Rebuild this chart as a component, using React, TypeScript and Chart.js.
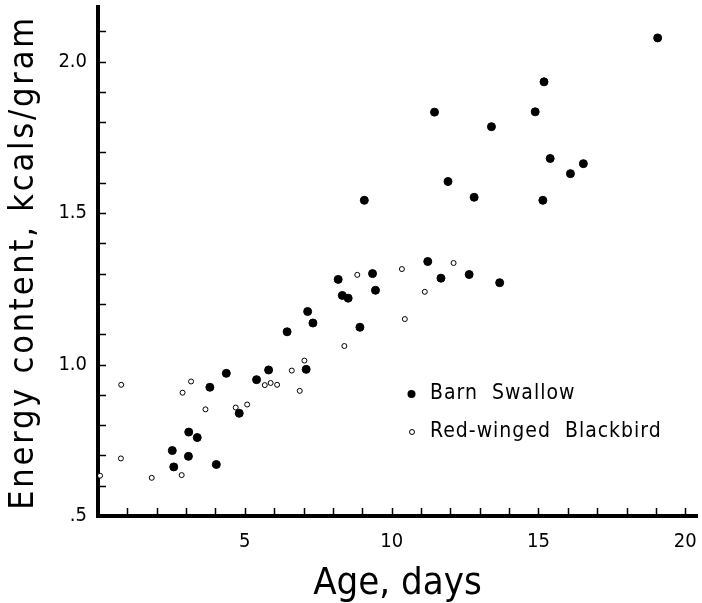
import React, { useEffect, useRef } from "react";
import { Chart, registerables } from "chart.js";

Chart.register(...registerables);

// ---- data ----
const barnSwallowAge = [19.06, 15.19, 11.46, 14.89, 13.4, 15.4, 16.53, 16.09, 11.92, 12.81, 15.15, 9.07, 8.18, 8.32, 8.52, 9.35, 9.45, 8.92, 11.23, 11.68, 12.64, 13.68, 7.14, 7.32, 6.44, 4.37, 3.81, 5.4, 5.81, 7.09, 4.81, 3.09, 3.38, 2.53, 3.08, 2.58, 4.03];
const barnSwallowEnergy = [2.078, 1.933, 1.833, 1.834, 1.785, 1.68, 1.663, 1.63, 1.604, 1.552, 1.542, 1.542, 1.281, 1.228, 1.219, 1.3, 1.245, 1.123, 1.34, 1.285, 1.297, 1.27, 1.175, 1.137, 1.108, 0.971, 0.925, 0.95, 0.982, 0.984, 0.839, 0.777, 0.759, 0.716, 0.697, 0.662, 0.67];
const blackbirdAge = [0.79, 0.78, 0.07, 1.83, 2.88, 3.17, 2.85, 3.66, 4.69, 5.08, 5.68, 5.88, 6.1, 6.6, 6.87, 7.03, 8.39, 8.83, 10.35, 12.11, 11.13, 10.45];
const blackbirdEnergy = [0.933, 0.69, 0.633, 0.626, 0.907, 0.944, 0.635, 0.852, 0.858, 0.868, 0.932, 0.939, 0.933, 0.98, 0.913, 1.013, 1.061, 1.296, 1.315, 1.335, 1.24, 1.15];

const xTickLabels: Record<number, string> = { 5: "5", 10: "10", 15: "15", 20: "20" };
const yTickLabels: Record<number, string> = { 5: ".5", 10: "1.0", 15: "1.5", 20: "2.0" };
const seriesNames = ["Barn  Swallow", "Red-winged  Blackbird"];
const xTitle = "Age, days";
const yTitle = "Energy content, kcals/gram";

const FONT = '"Liberation Sans Narrow", "DejaVu Sans Condensed", "DejaVu Sans", sans-serif';

const isStep = (v: number, step: number) => Math.abs(v / step - Math.round(v / step)) < 1e-6;

const innerTicks = {
  id: "innerTicks",
  afterDraw(chart: any) {
    const { ctx, chartArea, scales } = chart;
    ctx.save();
    ctx.strokeStyle = "#000";
    ctx.lineWidth = 1.5;
    ctx.beginPath();
    scales.x.ticks.forEach((t: any) => {
      if (!isStep(t.value, 1) || t.value <= 0) return;
      const px = Math.round(scales.x.getPixelForValue(t.value)) + 0.5;
      ctx.moveTo(px, chartArea.bottom);
      ctx.lineTo(px, chartArea.bottom - 8);
    });
    scales.y.ticks.forEach((t: any) => {
      if (!isStep(t.value, 0.1) || t.value <= 0.5 + 1e-6) return;
      const py = Math.round(scales.y.getPixelForValue(t.value)) + 0.5;
      ctx.moveTo(chartArea.left, py);
      ctx.lineTo(chartArea.left + 8, py);
    });
    ctx.stroke();
    ctx.restore();
  },
};

const textPlugin = {
  id: "customText",
  afterDraw(chart: any) {
    const { ctx, chartArea } = chart;
    ctx.save();
    // y-axis title, letter-spaced
    ctx.font = `34px ${FONT}`;
    ctx.fillStyle = "#000";
    (ctx as any).letterSpacing = "2.8px";
    ctx.translate(33, (chartArea.top + chartArea.bottom) / 2 + 1);
    ctx.rotate(-Math.PI / 2);
    ctx.textAlign = "center";
    ctx.textBaseline = "alphabetic";
    ctx.fillText(yTitle, 0, 0);
    ctx.restore();

    ctx.save();
    ctx.font = `21px ${FONT}`;
    (ctx as any).letterSpacing = "1px";
    ctx.fillStyle = "#000";
    ctx.textBaseline = "middle";
    ctx.textAlign = "left";
    ctx.beginPath();
    ctx.arc(411.5, 394, 4, 0, Math.PI * 2);
    ctx.fill();
    ctx.fillText(seriesNames[0], 430, 394);
    ctx.beginPath();
    ctx.arc(412, 432, 2.5, 0, Math.PI * 2);
    ctx.fillStyle = "#fff";
    ctx.fill();
    ctx.strokeStyle = "#000";
    ctx.lineWidth = 1;
    ctx.stroke();
    ctx.fillStyle = "#000";
    ctx.fillText(seriesNames[1], 430, 432);
    ctx.restore();
  },
};

export default function App() {
  const ref = useRef<HTMLCanvasElement>(null);
  useEffect(() => {
    if (!ref.current) return;
    const chart = new Chart(ref.current, {
      type: "scatter",
      data: {
        datasets: [
          {
            label: seriesNames[0],
            data: barnSwallowAge.map((x, i) => ({ x, y: barnSwallowEnergy[i] })),
            pointRadius: 4,
            pointBackgroundColor: "#000",
            pointBorderColor: "#000",
            pointBorderWidth: 1,
          },
          {
            label: seriesNames[1],
            data: blackbirdAge.map((x, i) => ({ x, y: blackbirdEnergy[i] })),
            pointRadius: 2.5,
            pointBackgroundColor: "#fff",
            pointBorderColor: "#000",
            pointBorderWidth: 1,
          },
        ],
      },
      plugins: [innerTicks, textPlugin],
      options: {
        animation: false,
        responsive: false,
        maintainAspectRatio: false,
        layout: { padding: { top: 7, right: 2, left: 0, bottom: 0 } },
        plugins: { legend: { display: false }, tooltip: { enabled: false } },
        scales: {
          x: {
            type: "linear",
            min: 0,
            max: 20.4,
            afterFit: (s: any) => { s.height = 87; s.paddingLeft = 0; s.paddingRight = 0; },
            border: { display: true, color: "#000", width: 4 },
            grid: { display: false, drawTicks: false },
            ticks: {
              stepSize: 1,
              autoSkip: false,
              includeBounds: false,
              maxRotation: 0,
              padding: 14,
              color: "#000",
              font: { family: FONT, size: 20 },
              callback: (v: any) => (isStep(Number(v), 1) && xTickLabels[Math.round(Number(v))]) || "",
            },
            title: {
              display: true,
              text: xTitle,
              color: "#000",
              font: { family: FONT, size: 38, lineHeight: 1 },
              padding: { top: 0, bottom: 0 },
            },
          },
          y: {
            type: "linear",
            min: 0.5,
            max: 2.18,
            afterFit: (s: any) => { s.width = 98; s.paddingTop = 0; s.paddingBottom = 0; },
            border: { display: true, color: "#000", width: 4 },
            grid: { display: false, drawTicks: false },
            ticks: {
              stepSize: 0.1,
              autoSkip: false,
              includeBounds: false,
              padding: 11,
              color: "#000",
              font: { family: FONT, size: 20 },
              callback: (v: any) => (isStep(Number(v), 0.1) && yTickLabels[Math.round(Number(v) * 10)]) || "",
            },
            title: { display: false },
          },
        },
      },
    });
    return () => chart.destroy();
  }, []);
  return (
    <div style={{ position: "absolute", left: 0, top: 0, width: 702, height: 603, background: "#fff" }}>
      <canvas ref={ref} width={702} height={603} style={{ width: 702, height: 603, display: "block" }} />
    </div>
  );
}
